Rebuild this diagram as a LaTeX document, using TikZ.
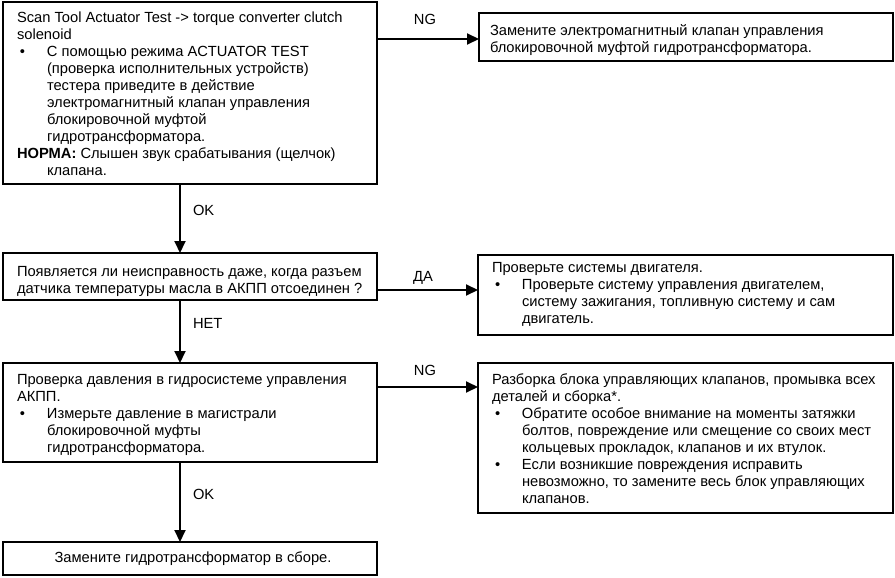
\documentclass[tikz,border=0pt]{standalone}
\usepackage{fontspec}
\setmainfont{Liberation Sans}
\usetikzlibrary{arrows.meta}
% #1 width, #2 height, #3 first baseline offset, #4 left pad, #5 content
\newcommand{\bx}[5]{\begin{minipage}[t][#2pt][t]{#1pt}\fontsize{14.7pt}{17pt}\selectfont\raggedright\setlength{\leftskip}{#4pt}\rule{0pt}{#3pt}#5\end{minipage}}
\newcommand{\itm}{\makebox[30pt][l]{\hspace*{3pt}•}}
\newcommand{\ind}{\hspace*{30pt}}
\tikzset{
  box/.style={draw, line width=2.6pt, inner sep=0pt, outer sep=0pt, anchor=north west, rectangle},
  arr/.style={line width=2pt, -{Triangle[length=12pt,width=11pt]}},
  lbl/.style={inner sep=0pt, font=\fontsize{14.7pt}{17pt}\selectfont}
}
\begin{document}
\begin{tikzpicture}[x=1pt,y=-1pt]
\useasboundingbox (0,0) rectangle (895,578);
\node[box] (b1) at (3,2) {\bx{374}{182}{20.5}{14}{Scan Tool Actuator Test -> torque converter clutch\\
solenoid\\
\itm С помощью режима ACTUATOR TEST\\
\ind(проверка исполнительных устройств)\\
\ind тестера приведите в действие\\
\ind электромагнитный клапан управления\\
\ind блокировочной муфтой\\
\ind гидротрансформатора.\\
\textbf{НОРМА:} Слышен звук срабатывания (щелчок)\\
\ind клапана.}};
\node[box] (b2) at (479,13) {\bx{414}{48}{23}{11}{Замените электромагнитный клапан управления\\
блокировочной муфтой гидротрансформатора.}};
\node[box] (b3) at (3,253) {\bx{374}{47}{23.5}{14}{Появляется ли неисправность даже, когда разъем\\
датчика температуры масла в АКПП отсоединен ?}};
\node[box] (b4) at (478,255) {\bx{415}{80}{17.5}{14}{Проверьте системы двигателя.\\
\itm Проверьте систему управления двигателем,\\
\ind систему зажигания, топливную систему и сам\\
\ind двигатель.}};
\node[box] (b5) at (3,363) {\bx{374}{99}{21.5}{14}{Проверка давления в гидросистеме управления\\
АКПП.\\
\itm Измерьте давление в магистрали\\
\ind блокировочной муфты\\
\ind гидротрансформатора.}};
\node[box] (b6) at (478,363) {\bx{415}{150}{21.5}{14}{Разборка блока управляющих клапанов, промывка всех\\
деталей и сборка*.\\
\itm Обратите особое внимание на моменты затяжки\\
\ind болтов, повреждение или смещение со своих мест\\
\ind кольцевых прокладок, клапанов и их втулок.\\
\itm Если возникшие повреждения исправить\\
\ind невозможно, то замените весь блок управляющих\\
\ind клапанов.}};
\node[box, minimum width=374pt, minimum height=33pt, font=\fontsize{14.7pt}{17pt}\selectfont] (b7) at (3,542) {\hspace*{6pt}Замените гидротрансформатор в сборе.};

\draw[arr] ([yshift=-2pt]b2.west -| b1.east) -- node[lbl, pos=0.47, above=13pt] {NG} ([yshift=-2pt]b2.west);
\draw[arr] ([xshift=-10pt]b1.south) -- node[lbl, pos=0.377, anchor=west, xshift=12pt] {OK} ([xshift=-10pt]b1.south |- b3.north);
\draw[arr] ([yshift=5pt]b4.west -| b3.east) -- node[lbl, pos=0.455, above=5pt] {ДА} ([yshift=5pt]b4.west);
\draw[arr] ([xshift=-10pt]b3.south) -- node[lbl, pos=0.365, anchor=west, xshift=12pt] {НЕТ} ([xshift=-10pt]b3.south |- b5.north);
\draw[arr] ([yshift=-24pt]b5.north east) -- node[lbl, pos=0.475, above=10pt] {NG} ([yshift=-24pt]b5.north east -| b6.west);
\draw[arr] ([xshift=-10pt]b5.south) -- node[lbl, pos=0.41, anchor=west, xshift=12pt] {OK} ([xshift=-10pt]b5.south |- b7.north);
\end{tikzpicture}
\end{document}
